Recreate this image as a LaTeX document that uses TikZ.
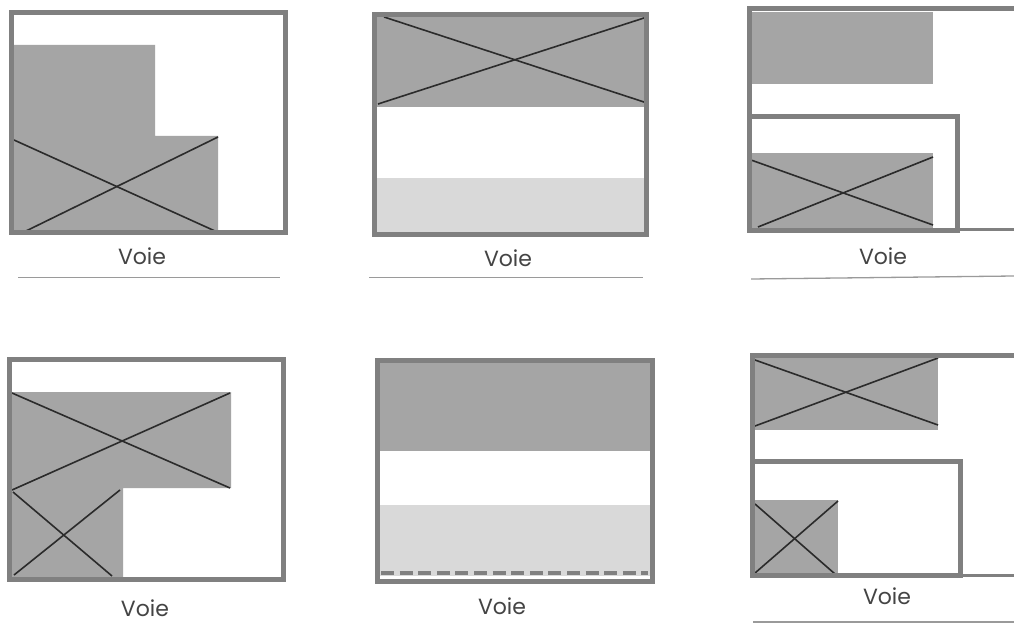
\documentclass[tikz,border=0pt]{standalone}
\usepackage{fontspec}
\setmainfont{Poppins}
\definecolor{wallc}{HTML}{808080}
\definecolor{bldc}{HTML}{A5A5A5}
\definecolor{lightc}{HTML}{D9D9D9}
\definecolor{crossc}{HTML}{2B2B2B}
\definecolor{roadc}{HTML}{9A9A9A}
\definecolor{textc}{HTML}{444444}
\tikzset{
  wall/.style={draw=wallc,line width=5pt,miter limit=10},
  thinwall/.style={draw=wallc,line width=3pt},
  bld/.style={fill=bldc,draw=none},
  yard/.style={fill=lightc,draw=none},
  crossl/.style={draw=crossc,line width=1.6pt},
  road/.style={draw=roadc,line width=1.3pt},
  voie/.style={text=textc,font=\fontsize{22pt}{24pt}\selectfont,inner sep=0pt,anchor=center}
}
\begin{document}
\begin{tikzpicture}[x=1pt,y=-1pt]
\useasboundingbox (0,0) rectangle (1014,623);
\fill[white] (0,0) rectangle (1014,623);
% panel 1
\fill[bld] (13,45) -- (155,45) -- (155,136) -- (218,136) -- (218,231) -- (13,231) -- cycle;
\draw[crossl] (14,140) -- (215,231);
\draw[crossl] (26,231) -- (218,137);
\draw[wall] (11,12.5) -- (285,12.5) -- (285,232) -- (11,232) -- cycle;
\node[voie] (v1) at (142,256) {Voie};
\draw[road] (18,277.5) -- (280,277.5);
% panel 2
\fill[bld] (375,16) rectangle (645,107);
\fill[yard] (375,178) rectangle (645,232);
\draw[crossl] (378,104) -- (644,18);
\draw[crossl] (384,17) -- (644,102);
\draw[wall] (374,15) rectangle (646,234);
\node[voie] (v2) at (508,258) {Voie};
\draw[road] (369,277.5) -- (643,277.5);
% panel 3
\fill[bld] (751,12) rectangle (933,84);
\fill[bld] (751,153) rectangle (933,228);
\draw[crossl] (751,160) -- (933,225);
\draw[crossl] (758,227) -- (933,157);
\draw[wall] (1016,9) -- (749,9) -- (749,230) -- (957.5,230) -- (957.5,116.5) -- (749,116.5);
\draw[thinwall] (957,229) -- (1016,229);
\node[voie] (v3) at (883,256) {Voie};
\draw[road] (751,279) -- (1014,276);
% panel 4
\fill[bld] (10,392) -- (231,392) -- (231,488) -- (123,488) -- (123,578) -- (10,578) -- cycle;
\draw[crossl] (12,393) -- (230,488);
\draw[crossl] (12,490) -- (230,393);
\draw[crossl] (13,492) -- (112,576);
\draw[crossl] (14,575) -- (120,490);
\draw[wall] (9,359) rectangle (283,579);
\node[voie] (v4) at (145,608) {Voie};
% panel 5
\fill[bld] (378,361) rectangle (652,451);
\fill[yard] (378,505) rectangle (652,576);
\draw[wall] (377.5,360.5) rectangle (652.5,581);
\draw[draw=wallc,line width=4pt,dash pattern=on 13pt off 5.6pt] (381,573) -- (648,573);
\node[voie] (v5) at (502,606) {Voie};
% panel 6
\fill[bld] (755,358) rectangle (938,430);
\fill[bld] (755,500) rectangle (838,573);
\draw[crossl] (755,360) -- (938,425);
\draw[crossl] (755,426) -- (938,358);
\draw[crossl] (755,504) -- (835,574);
\draw[crossl] (755,573) -- (838,501);
\draw[wall] (1016,355.5) -- (752.5,355.5) -- (752.5,575) -- (960.5,575) -- (960.5,461.5) -- (752.5,461.5);
\draw[thinwall] (960,575) -- (1016,575);
\node[voie] (v6) at (887,596) {Voie};
\draw[road] (753,622) -- (1014,622);
\end{tikzpicture}
\end{document}
